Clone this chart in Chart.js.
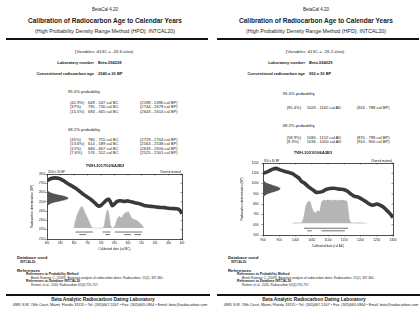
<!DOCTYPE html>
<html>
<head>
<meta charset="utf-8">
<script src="https://cdn.jsdelivr.net/npm/chart.js@4.4.0/dist/chart.umd.min.js"></script>
<style>
  html, body { margin: 0; padding: 0; background: #fff; }
  body { width: 420px; height: 309px; position: relative; overflow: hidden;
         font-family: "Liberation Sans", Arial, sans-serif; color: #222; }
  .t { position: absolute; white-space: nowrap; line-height: 1; }
  .rule { position: absolute; height: 2px; background: #111; }
  .box { position: absolute; }
</style>
</head>
<body>
<div class="box" style="left:20px;top:165px;width:170px;height:90px"><canvas id="chartA"></canvas></div>
<div class="box" style="left:232px;top:155px;width:170px;height:97px"><canvas id="chartB"></canvas></div>
<script>
// Muestra A (cal BC)
const curveYearsA = [900, 885, 870, 855, 840, 825, 810, 795, 780, 765, 750, 735, 720, 710, 700, 690, 680, 672, 665, 658, 650, 640, 630, 615, 600, 585, 570, 555, 540, 525, 510, 495, 480, 465, 450, 435, 420, 410, 400];
const curveAgesA = [2728, 2752, 2758, 2752, 2730, 2700, 2675, 2650, 2615, 2580, 2550, 2520, 2480, 2455, 2462, 2490, 2518, 2528, 2500, 2458, 2478, 2505, 2512, 2505, 2510, 2498, 2488, 2478, 2462, 2455, 2450, 2445, 2440, 2438, 2432, 2428, 2425, 2415, 2372];
const probYearsA = [800, 796, 790, 784, 778, 771, 765, 759, 753, 747, 740, 734, 728, 700, 690, 685, 680, 675, 670, 665, 660, 654, 648, 642, 636, 630, 624, 618, 611, 605, 599, 593, 586, 580, 574, 568, 562, 556, 549, 545, 540];
const probValuesA = [0, 0.25, 0.55, 0.72, 0.9, 1.0, 0.9, 0.7, 0.55, 0.38, 0.18, 0.03, 0, 0, 0.05, 0.35, 0.7, 0.85, 0.6, 0.15, 0.02, 0, 0.1, 0.35, 0.5, 0.53, 0.45, 0.6, 0.69, 0.72, 0.77, 0.62, 0.45, 0.42, 0.38, 0.35, 0.3, 0.22, 0.15, 0.06, 0];
const gaussAgesA = [2440, 2450, 2460, 2470, 2480, 2490, 2500, 2510, 2520, 2530, 2540, 2550, 2560, 2570, 2580, 2590, 2600, 2610, 2620, 2630, 2640];
const ranges95A = [[795, 730], [694, 665], [649, 547]];
const ranges68A = [[780, 755], [684, 667], [614, 589], [576, 552]];
const xTicksA = [900, 850, 800, 750, 700, 650, 600, 550, 500, 450, 400];
const yTicksA = [2100, 2200, 2300, 2400, 2500, 2600, 2700, 2800];

// Muestra B (cal AD)
const curveYearsB = [900, 915, 930, 940, 951, 965, 980, 990, 1000, 1010, 1018, 1028, 1040, 1052, 1062, 1070, 1082, 1092, 1105, 1118, 1130, 1140, 1150, 1160, 1170, 1180, 1195, 1205, 1216, 1228, 1238, 1250, 1260, 1270, 1280, 1290, 1300];
const curveAgesB = [1100, 1116, 1140, 1148, 1135, 1120, 1108, 1098, 1075, 1055, 1022, 1003, 968, 942, 918, 915, 922, 940, 952, 955, 948, 945, 940, 925, 900, 878, 865, 848, 825, 800, 790, 802, 790, 772, 742, 710, 670];
const probYearsB = [990, 1000, 1010, 1020, 1026, 1032, 1038, 1044, 1050, 1056, 1062, 1068, 1074, 1080, 1086, 1092, 1100, 1110, 1120, 1130, 1140, 1150, 1158, 1162, 1166, 1172, 1180, 1200, 1210, 1220];
const probValuesB = [0, 0.03, 0.02, 0.05, 0.3, 0.75, 0.92, 0.95, 0.7, 0.5, 0.45, 0.55, 0.5, 0.9, 1.0, 0.98, 1.0, 0.98, 1.0, 0.97, 1.0, 0.98, 0.95, 0.6, 0.15, 0.03, 0.02, 0.03, 0.01, 0];
const gaussAgesB = [850, 860, 870, 880, 890, 900, 910, 920, 930, 940, 950, 960, 970, 980, 990, 1000, 1010, 1020, 1030, 1040, 1050];
const ranges95B = [[1026, 1162]];
const ranges68B = [[1036, 1050], [1080, 1152]];
const xTicksB = [900, 950, 1000, 1050, 1100, 1150, 1200, 1250, 1300];
const yTicksB = [500, 600, 700, 800, 900, 1000, 1100, 1200];

// forma de la curva normal (edad radiocarbono)
const gaussDensity = [0, 0.011, 0.029, 0.066, 0.135, 0.249, 0.411, 0.607, 0.801, 0.946, 1, 0.946, 0.801, 0.607, 0.411, 0.249, 0.135, 0.066, 0.029, 0.011, 0];

const FONT = '"Liberation Sans", Arial, sans-serif';
Chart.defaults.font.family = FONT;
Chart.defaults.color = '#222';

function put(x, y, s, size, bold, align) {
    const d = document.createElement('div');
    d.className = 't';
    d.textContent = s;
    d.style.fontSize = size + 'px';
    d.style.top = (y - size * 0.55) + 'px';
    if (bold) d.style.fontWeight = 'bold';
    if (align === 'c') {
        d.style.left = x + 'px';
        d.style.transform = 'translateX(-50%)';
    } else if (align === 'r') {
        d.style.right = (420 - x) + 'px';
    } else {
        d.style.left = x + 'px';
    }
    document.body.appendChild(d);
}

function rule(x, y, w) {
    const d = document.createElement('div');
    d.className = 'rule';
    d.style.left = x + 'px';
    d.style.top = y + 'px';
    d.style.width = w + 'px';
    document.body.appendChild(d);
}

function page(ox, p) {
    put(ox + 105, 10, 'BetaCal 4.20', 4.5, false, 'c');
    put(ox + 105, 21.5, 'Calibration of Radiocarbon Age to Calendar Years', 6.5, true, 'c');
    put(ox + 105, 32, '(High Probability Density Range Method (HPD): INTCAL20)', 5.3, false, 'c');
    rule(ox + 6, 38, 202);
    put(ox + 104, 52, p.variables, 4.4, false, 'c');
    put(ox + 94, 63, 'Laboratory number', 4, true, 'r');
    put(ox + 98, 63, p.lab, 4, true, 'l');
    put(ox + 94, 74, 'Conventional radiocarbon age', 4, true, 'r');
    put(ox + 98, 74, p.age, 4, true, 'l');

    put(ox + p.probX, p.y95, '95.4% probability', 4.2, false, 'l');
    p.rows95.forEach((r, i) => {
        r.forEach((s, j) => put(ox + p.cols[j], p.rows95Y[i], s, 4.1, false, 'l'));
    });
    put(ox + p.probX, p.y68, '68.2% probability', 4.2, false, 'l');
    p.rows68.forEach((r, i) => {
        r.forEach((s, j) => put(ox + p.cols[j], p.rows68Y[i], s, 4.1, false, 'l'));
    });
    put(ox + p.titleX, p.titleY, p.sample, 4, true, 'c');

    // pie de pagina
    put(ox + 17, 258.5, 'Database used', 4.3, true, 'l');
    put(ox + 20, 262.5, 'INTCAL20', 3.2, true, 'l');
    put(ox + 17, 271, 'References', 4.3, true, 'l');
    put(ox + 26, 275, 'References to Probability Method', 3.3, true, 'l');
    put(ox + 31, 278.5, 'Bronk Ramsey, C. (2009). Bayesian analysis of radiocarbon dates. Radiocarbon, 51(1), 337-360.', 3.1, false, 'l');
    put(ox + 26, 282, 'References to Database INTCAL20', 3.3, true, 'l');
    put(ox + 31, 285.5, 'Reimer, et al., 2020, Radiocarbon 62(4):725-757.', 3.1, false, 'l');
    rule(ox + 6, 294, 204);
    put(ox + 103, 300.7, 'Beta Analytic Radiocarbon Dating Laboratory', 4.8, true, 'c');
    put(ox + 110, 306, '4985 S.W. 74th Court, Miami, Florida 33155 \u2022 Tel: (305)667-5167 \u2022 Fax: (305)663-0964 \u2022 Email: beta@radiocarbon.com', 3.7, false, 'c');
}

page(0, {
    variables: '(Variables: d13C = -26.6 o/oo)',
    lab: 'Beta-594228',
    age: '2540 \u00b1 30 BP',
    probX: 68, y95: 92, y68: 130,
    cols: [70, 88, 140],
    rows95: [
        ['(42.9%)', '649 - 547 cal BC', '(2598 - 2496 cal BP)'],
        ['(37%)', '795 - 730 cal BC', '(2744 - 2679 cal BP)'],
        ['(15.5%)', '694 - 665 cal BC', '(2643 - 2614 cal BP)']
    ],
    rows95Y: [103.3, 107.6, 111.9],
    rows68: [
        ['(35%)', '780 - 755 cal BC', '(2729 - 2704 cal BP)'],
        ['(13.6%)', '614 - 589 cal BC', '(2563 - 2538 cal BP)'],
        ['(12%)', '684 - 667 cal BC', '(2633 - 2616 cal BP)'],
        ['(7.6%)', '576 - 552 cal BC', '(2525 - 2501 cal BP)']
    ],
    rows68Y: [140, 144.4, 148.8, 153.2],
    sample: 'TWH-2017/02/6A2B2', titleX: 105, titleY: 166
});

page(211, {
    variables: '(Variables: d13C = -26.2 o/oo)',
    lab: 'Beta-594229',
    age: '950 \u00b1 30 BP',
    probX: 71.7, y95: 94, y68: 126.7,
    cols: [75.7, 95.7, 145.7],
    rows95: [
        ['(95.4%)', '1026 - 1162 cal AD', '(924 - 788 cal BP)']
    ],
    rows95Y: [108.3],
    rows68: [
        ['(58.9%)', '1080 - 1152 cal AD', '(870 - 798 cal BP)'],
        ['(9.3%)', '1036 - 1050 cal AD', '(914 - 900 cal BP)']
    ],
    rows68Y: [138.3, 142.6],
    sample: 'TWH-2021/09/6A2B3', titleX: 102, titleY: 153.3
});

// marcas interiores arriba / derecha y textos de esquina
const boxExtras = {
    id: 'boxExtras',
    afterDraw(chart, args, opts) {
        const {ctx, chartArea: a, scales} = chart;
        ctx.save();
        ctx.strokeStyle = '#222';
        ctx.lineWidth = 0.5;
        scales.x.ticks.forEach(t => {
            const px = scales.x.getPixelForValue(t.value);
            ctx.beginPath(); ctx.moveTo(px, a.top); ctx.lineTo(px, a.top + 1.5); ctx.stroke();
        });
        scales.y.ticks.forEach(t => {
            const py = scales.y.getPixelForValue(t.value);
            ctx.beginPath(); ctx.moveTo(a.right, py); ctx.lineTo(a.right - 1.5, py); ctx.stroke();
        });
        ctx.fillStyle = '#222';
        ctx.font = '2.8px ' + FONT;
        ctx.textBaseline = 'bottom';
        ctx.textAlign = 'left';
        ctx.fillText(opts.leftText, a.left + 1, a.top - 0.8);
        ctx.textAlign = 'right';
        ctx.fillText(opts.rightText, a.right - 1, a.top - 0.8);
        ctx.restore();
    }
};

function rangeLine(ranges, level) {
    const pts = [];
    ranges.forEach(r => {
        pts.push({x: r[0], y: level}, {x: r[1], y: level}, {x: r[1], y: null});
    });
    return pts;
}

function buildChart(id, c) {
    const xSpec = {min: Math.min(...c.xTicks), max: Math.max(...c.xTicks), reverse: c.reverse};
    return new Chart(document.getElementById(id), {
        type: 'line',
        data: {
            datasets: [
                {
                    data: c.curveX.map((x, i) => ({x: x, y: c.curveY[i]})),
                    xAxisID: 'x', yAxisID: 'y',
                    borderColor: '#3a3a3a', borderWidth: 3.6, pointRadius: 0,
                    tension: 0.3, fill: false, order: 0
                },
                {
                    data: c.gaussY.map((y, i) => ({x: gaussDensity[i], y: y})),
                    xAxisID: 'x2', yAxisID: 'y',
                    borderColor: '#333', borderWidth: 0.5, backgroundColor: '#555',
                    pointRadius: 0, tension: 0.3, fill: 'shape', order: 1
                },
                {
                    data: c.probX.map((x, i) => ({x: x, y: c.probY[i]})),
                    xAxisID: 'x', yAxisID: 'y2',
                    borderColor: '#a8a8a8', borderWidth: 0.4, backgroundColor: '#b5b5b5',
                    pointRadius: 0, tension: 0.2, fill: {value: 0}, order: 2
                },
                {
                    data: rangeLine(c.r95, c.l95),
                    xAxisID: 'x', yAxisID: 'y2',
                    borderColor: '#333', borderWidth: 0.7, pointRadius: 0, spanGaps: false, order: 3
                },
                {
                    data: rangeLine(c.r68, c.l68),
                    xAxisID: 'x', yAxisID: 'y2',
                    borderColor: '#333', borderWidth: 0.7, pointRadius: 0, spanGaps: false, order: 3
                }
            ]
        },
        options: {
            responsive: true,
            maintainAspectRatio: false,
            animation: false,
            events: [],
            layout: {padding: {left: 0, top: c.padTop, right: c.padRight, bottom: 0}},
            plugins: {
                legend: {display: false},
                tooltip: {enabled: false},
                boxExtras: {leftText: c.leftText, rightText: 'Charred material'}
            },
            scales: {
                x: {
                    type: 'linear', position: 'bottom', ...xSpec,
                    afterBuildTicks: s => { s.ticks = c.xTicks.map(v => ({value: v})); },
                    afterFit: s => { s.height = c.xh; },
                    ticks: {font: {size: c.tickSize}, padding: c.xTickPad, maxRotation: 0, autoSkip: false, callback: v => String(v)},
                    grid: {drawOnChartArea: false, tickLength: 1.5, color: '#222', lineWidth: 0.5},
                    border: {color: '#222', width: 0.8},
                    title: {display: true, text: c.xTitle, font: {size: 3}, padding: {top: 0, bottom: c.xTitlePad}}
                },
                xTop: {
                    type: 'linear', position: 'top', ...xSpec,
                    afterFit: s => { s.height = 0; },
                    ticks: {display: false},
                    grid: {drawOnChartArea: false, drawTicks: false},
                    border: {color: '#222', width: 0.8}
                },
                y: {
                    type: 'linear', position: 'left',
                    min: Math.min(...c.yTicks), max: Math.max(...c.yTicks),
                    afterBuildTicks: s => { s.ticks = c.yTicks.map(v => ({value: v})); },
                    afterFit: s => { s.width = c.yw; },
                    ticks: {font: {size: c.tickSize}, padding: c.yTickPad, callback: v => String(v)},
                    grid: {drawOnChartArea: false, tickLength: 1.5, color: '#222', lineWidth: 0.5},
                    border: {color: '#222', width: 0.8},
                    title: {display: true, text: 'Radiocarbon determination (BP)', font: {size: 3}, padding: {top: c.yTitlePad, bottom: 0}}
                },
                yRight: {
                    type: 'linear', position: 'right',
                    min: Math.min(...c.yTicks), max: Math.max(...c.yTicks),
                    afterFit: s => { s.width = 0; },
                    ticks: {display: false},
                    grid: {drawOnChartArea: false, drawTicks: false},
                    border: {color: '#222', width: 0.8}
                },
                x2: {type: 'linear', display: false, min: 0, max: c.gaussMax},
                y2: {type: 'linear', display: false, min: c.pMin, max: c.pMax}
            }
        },
        plugins: [boxExtras]
    });
}

buildChart('chartA', {
    curveX: curveYearsA, curveY: curveAgesA,
    probX: probYearsA, probY: probValuesA,
    gaussY: gaussAgesA,
    r95: ranges95A, r68: ranges68A, l95: -0.19, l68: -0.31,
    xTicks: xTicksA, yTicks: yTicksA, reverse: true,
    xTitle: 'Calibrated date (cal BC)', leftText: '2540 \u00b1 30 BP',
    padTop: 9, padRight: 8, xh: 16, yw: 27,
    tickSize: 2.8, xTickPad: 1, yTickPad: 0.3, xTitlePad: 3.9, yTitlePad: 9.9,
    gaussMax: 6.4, pMin: -0.515, pMax: 2.515
});

buildChart('chartB', {
    curveX: curveYearsB, curveY: curveAgesB,
    probX: probYearsB, probY: probValuesB,
    gaussY: gaussAgesB,
    r95: ranges95B, r68: ranges68B, l95: -0.21, l68: -0.32,
    xTicks: xTicksB, yTicks: yTicksB, reverse: false,
    xTitle: 'Calibrated date (cal AD)', leftText: '950 \u00b1 30 BP',
    padTop: 8, padRight: 9, xh: 17, yw: 31,
    tickSize: 3.2, xTickPad: 1.7, yTickPad: 3, xTitlePad: 4.2, yTitlePad: 7.9,
    gaussMax: 7.6, pMin: -0.5, pMax: 2.59
});
</script>
</body>
</html>
